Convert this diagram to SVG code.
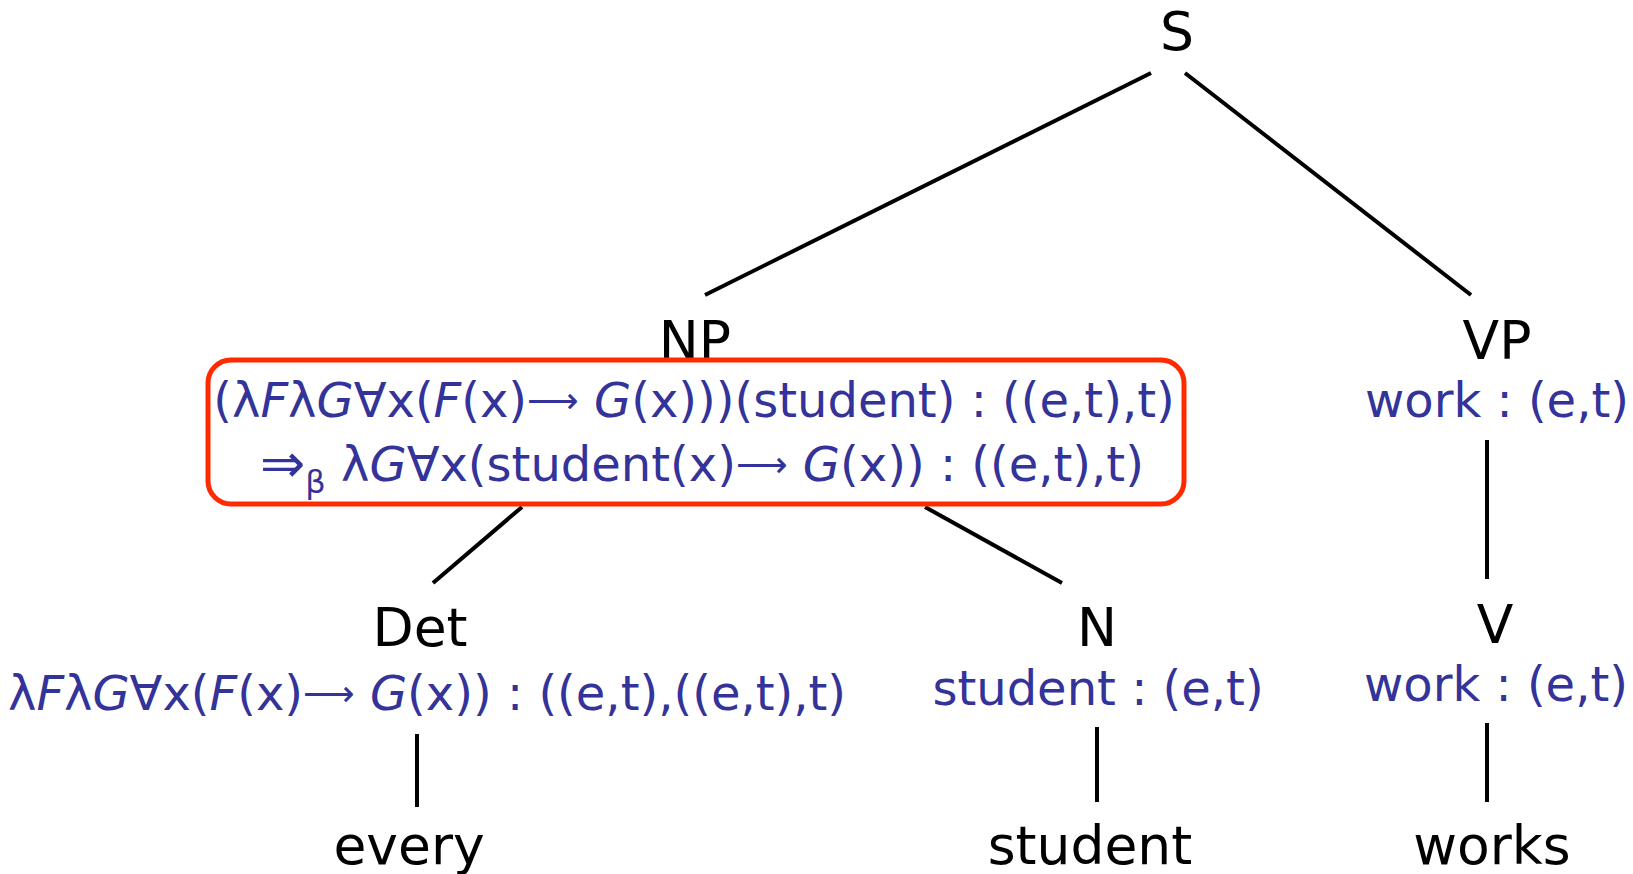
<svg xmlns="http://www.w3.org/2000/svg" width="1633" height="874" viewBox="0 0 1633 874">
<style>
.cat{font-family:"DejaVu Sans",sans-serif;font-size:53.5px;fill:#000;text-anchor:middle}
.sem{font-family:"DejaVu Sans",sans-serif;font-size:48px;fill:#333399;text-anchor:middle}
.i{font-style:italic}
.ar{font-size:36px}
.edge{stroke:#000;stroke-width:4;fill:none}
</style>
<rect width="1633" height="874" fill="#fff"/>
<g id="connectors">
<line class="edge" x1="1151" y1="73" x2="705" y2="295"/>
<line class="edge" x1="1185" y1="73" x2="1471" y2="295"/>
<line class="edge" x1="522" y1="507" x2="433" y2="583"/>
<line class="edge" x1="925" y1="507" x2="1062" y2="583"/>
<line class="edge" x1="1487" y1="440" x2="1487" y2="579"/>
<line class="edge" x1="417" y1="734" x2="417" y2="807"/>
<line class="edge" x1="1097" y1="727" x2="1097" y2="802"/>
<line class="edge" x1="1487" y1="723" x2="1487" y2="802"/>
</g>
<g id="S"><text class="cat" x="1177" y="50">S</text></g>
<g id="NP">
<text class="cat" x="695" y="359">NP</text>
<rect x="208" y="360" width="976" height="144" rx="23" fill="none" stroke="#ff2a00" stroke-width="5"/>
<text class="sem" x="694" y="417">(λ<tspan class="i">F</tspan>λ<tspan class="i">G</tspan>∀x(<tspan class="i">F</tspan>(x)<tspan class="ar" dy="-4">⟶</tspan><tspan dy="4"> </tspan><tspan class="i">G</tspan>(x)))(student) : ((e,t),t)</text>
<text class="sem" x="702" y="481"><tspan font-size="54" dy="1">⇒</tspan><tspan font-size="32" dy="11">β</tspan><tspan dy="-12"> λ</tspan><tspan class="i">G</tspan>∀x(student(x)<tspan class="ar" dy="-4">⟶</tspan><tspan dy="4"> </tspan><tspan class="i">G</tspan>(x)) : ((e,t),t)</text>
</g>
<g id="VP">
<text class="cat" x="1497" y="359">VP</text>
<text class="sem" x="1497" y="417">work : (e,t)</text>
</g>
<g id="Det">
<text class="cat" x="420" y="646">Det</text>
<text class="sem" x="427" y="710">λ<tspan class="i">F</tspan>λ<tspan class="i">G</tspan>∀x(<tspan class="i">F</tspan>(x)<tspan class="ar" dy="-4">⟶</tspan><tspan dy="4"> </tspan><tspan class="i">G</tspan>(x)) : ((e,t),((e,t),t)</text>
</g>
<g id="N">
<text class="cat" x="1097" y="646">N</text>
<text class="sem" x="1098" y="705">student : (e,t)</text>
</g>
<g id="V">
<text class="cat" x="1495" y="643">V</text>
<text class="sem" x="1496" y="701">work : (e,t)</text>
</g>
<g id="every"><text class="cat" x="409" y="864">every</text></g>
<g id="student"><text class="cat" x="1090" y="864">student</text></g>
<g id="works"><text class="cat" x="1492" y="864">works</text></g>
</svg>
